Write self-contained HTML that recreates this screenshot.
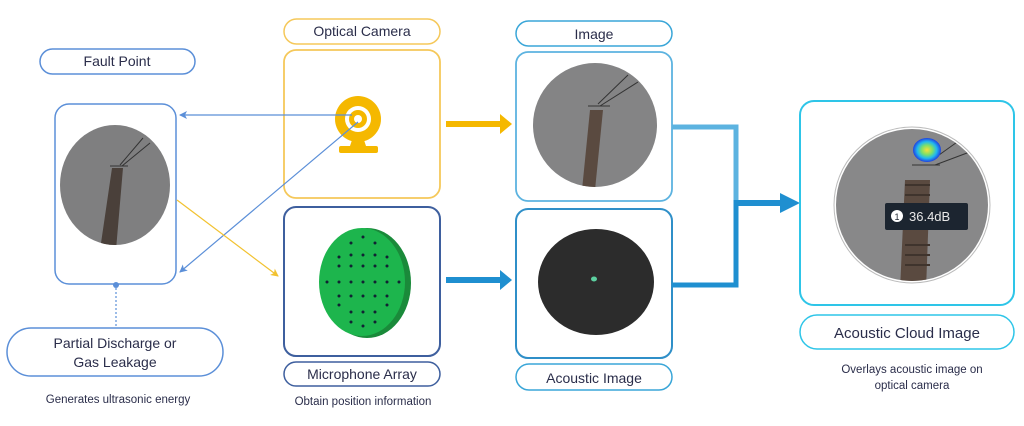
<!DOCTYPE html>
<html><head><style>
body{margin:0;background:#fff;}
svg text{font-family:"Liberation Sans",sans-serif;fill:#2a2d4a;}
</style></head><body>
<svg width="1024" height="421" viewBox="0 0 1024 421">
<defs>
<marker id="ab" markerWidth="8" markerHeight="8" refX="7" refY="4" orient="auto" markerUnits="userSpaceOnUse"><path d="M0,0 L8,4 L0,8 L2,4z" fill="#5b8fd8"/></marker>
<marker id="ay" markerWidth="8" markerHeight="8" refX="7" refY="4" orient="auto" markerUnits="userSpaceOnUse"><path d="M0,0 L8,4 L0,8 L2,4z" fill="#f2c230"/></marker>
<clipPath id="c1"><ellipse cx="115" cy="185" rx="55" ry="60"/></clipPath>
<clipPath id="c2"><circle cx="595" cy="125" r="62"/></clipPath>
<clipPath id="c3"><circle cx="912" cy="205" r="76"/></clipPath>
<radialGradient id="hot"><stop offset="0" stop-color="#f7e03a"/><stop offset="0.4" stop-color="#7be06a"/><stop offset="0.7" stop-color="#20b8f0"/><stop offset="1" stop-color="#2040e0"/></radialGradient>
</defs>
<!-- Left -->
<rect x="40" y="49" width="155" height="25" rx="12.5" fill="#fff" stroke="#5b8fd8" stroke-width="1.5"/>
<text x="117" y="66" font-size="14" text-anchor="middle">Fault Point</text>
<rect x="55" y="104" width="121" height="180" rx="14" fill="#fff" stroke="#5b8fd8" stroke-width="1.5"/>
<g clip-path="url(#c1)"><rect x="55" y="120" width="121" height="130" fill="#7f7f80"/>
<path d="M112,168 L123,168 L116,250 L100,250z" fill="#4a403a"/>
<path d="M110,166 L128,166 M120,165 L143,138 M122,166 L150,143" stroke="#333" stroke-width="1" fill="none"/></g>
<circle cx="116" cy="285" r="3" fill="#5b8fd8"/>
<line x1="116" y1="288" x2="116" y2="326" stroke="#5b8fd8" stroke-width="1.2" stroke-dasharray="2,2"/>
<rect x="7" y="328" width="216" height="48" rx="24" fill="#fff" stroke="#5b8fd8" stroke-width="1.5"/>
<text x="115" y="348" font-size="14" text-anchor="middle">Partial Discharge or</text>
<text x="115" y="367" font-size="14" text-anchor="middle">Gas Leakage</text>
<text x="118" y="403" font-size="11.5" text-anchor="middle">Generates ultrasonic energy</text>
<!-- Camera -->
<rect x="284" y="19" width="156" height="25" rx="12.5" fill="#fff" stroke="#f5c85a" stroke-width="1.5"/>
<text x="362" y="36" font-size="14" text-anchor="middle">Optical Camera</text>
<rect x="284" y="50" width="156" height="148" rx="12" fill="#fff" stroke="#f5c85a" stroke-width="1.8"/>
<circle cx="358" cy="119" r="23" fill="#f5b800"/>
<circle cx="358" cy="119" r="13" fill="#fff"/><circle cx="358" cy="119" r="9" fill="#f5b800"/><circle cx="358" cy="119" r="4" fill="#fff"/>
<path d="M352,140 L364,140 L366,146 L350,146z" fill="#f5b800"/>
<rect x="339" y="146" width="39" height="7" rx="2" fill="#f5b800"/>
<rect x="284" y="207" width="156" height="149" rx="12" fill="#fff" stroke="#3e5f9e" stroke-width="2"/>
<ellipse cx="367" cy="283" rx="44" ry="55" fill="#1a8a3a"/>
<ellipse cx="362" cy="282" rx="43" ry="54" fill="#1db54d"/>
<g fill="#123">
<circle cx="363" cy="237" r="1.5"/><circle cx="351" cy="243" r="1.5"/><circle cx="375" cy="243" r="1.5"/>
<circle cx="339" cy="257" r="1.5"/><circle cx="351" cy="255" r="1.5"/><circle cx="363" cy="255" r="1.5"/><circle cx="375" cy="255" r="1.5"/><circle cx="387" cy="257" r="1.5"/>
<circle cx="339" cy="266" r="1.5"/><circle cx="351" cy="266" r="1.5"/><circle cx="363" cy="266" r="1.5"/><circle cx="375" cy="266" r="1.5"/><circle cx="387" cy="266" r="1.5"/>
<circle cx="327" cy="282" r="1.5"/><circle cx="339" cy="282" r="1.5"/><circle cx="351" cy="282" r="1.5"/><circle cx="363" cy="282" r="1.5"/><circle cx="375" cy="282" r="1.5"/><circle cx="387" cy="282" r="1.5"/><circle cx="399" cy="282" r="1.5"/>
<circle cx="339" cy="296" r="1.5"/><circle cx="351" cy="296" r="1.5"/><circle cx="363" cy="296" r="1.5"/><circle cx="375" cy="296" r="1.5"/><circle cx="387" cy="296" r="1.5"/>
<circle cx="339" cy="305" r="1.5"/><circle cx="387" cy="305" r="1.5"/>
<circle cx="351" cy="312" r="1.5"/><circle cx="363" cy="312" r="1.5"/><circle cx="375" cy="312" r="1.5"/>
<circle cx="351" cy="322" r="1.5"/><circle cx="363" cy="326" r="1.5"/><circle cx="375" cy="322" r="1.5"/></g>
<rect x="284" y="362" width="156" height="24" rx="12" fill="#fff" stroke="#3e5f9e" stroke-width="1.5"/>
<text x="362" y="379" font-size="14" text-anchor="middle">Microphone Array</text>
<text x="363" y="405" font-size="11.5" text-anchor="middle">Obtain position information</text>
<!-- connectors left -->
<line x1="352" y1="115" x2="180" y2="115" stroke="#5b8fd8" stroke-width="1.2" marker-end="url(#ab)"/>
<line x1="358" y1="122" x2="180" y2="272" stroke="#5b8fd8" stroke-width="1.2" marker-end="url(#ab)"/>
<line x1="177" y1="200" x2="278" y2="276" stroke="#f2c230" stroke-width="1.2" marker-end="url(#ay)"/>
<!-- mid arrows -->
<path d="M446,121 L500,121 L500,114 L512,124 L500,134 L500,127 L446,127z" fill="#f5b800"/>
<path d="M446,277 L500,277 L500,270 L512,280 L500,290 L500,283 L446,283z" fill="#1f8fd0"/>
<!-- image column -->
<rect x="516" y="21" width="156" height="25" rx="12.5" fill="#fff" stroke="#3aa6d8" stroke-width="1.5"/>
<text x="594" y="39" font-size="14" text-anchor="middle">Image</text>
<rect x="516" y="52" width="156" height="149" rx="12" fill="#fff" stroke="#5cb3e0" stroke-width="1.8"/>
<g clip-path="url(#c2)"><rect x="530" y="60" width="130" height="130" fill="#848485"/>
<path d="M590,110 L603,110 L595,190 L582,190z" fill="#5a4a40"/>
<path d="M588,106 L610,106 M598,104 L628,75 M600,106 L638,82" stroke="#333" stroke-width="1" fill="none"/></g>
<rect x="516" y="209" width="156" height="149" rx="12" fill="#fff" stroke="#2f8fc8" stroke-width="2"/>
<ellipse cx="596" cy="282" rx="58" ry="53" fill="#2c2c2c"/>
<ellipse cx="594" cy="279" rx="3" ry="2.5" fill="#5cd0a0"/>
<rect x="516" y="364" width="156" height="26" rx="13" fill="#fff" stroke="#3aa6d8" stroke-width="1.5"/>
<text x="594" y="383" font-size="14" text-anchor="middle">Acoustic Image</text>
<!-- merge -->
<path d="M672,127 L736,127 L736,203" stroke="#5cb3e0" stroke-width="5" fill="none"/>
<path d="M672,285 L736,285 L736,200" stroke="#1f8fd0" stroke-width="5" fill="none"/>
<path d="M734,200 L780,200 L780,193 L800,203 L780,213 L780,206 L734,206z" fill="#1f8fd0"/>
<!-- right -->
<rect x="800" y="101" width="214" height="204" rx="14" fill="#fff" stroke="#2ec5e8" stroke-width="2"/>
<circle cx="912" cy="205" r="78" fill="#fff" stroke="#bbb" stroke-width="1"/>
<g clip-path="url(#c3)"><rect x="830" y="125" width="165" height="165" fill="#888889"/>
<path d="M905,180 L930,180 L926,290 L900,290z" fill="#5a4a40"/>
<path d="M905,185 L930,185 M905,195 L930,195 M905,205 L930,205 M905,215 L930,215 M905,245 L930,245 M905,255 L930,255 M905,265 L930,265" stroke="#3f342d" stroke-width="2"/>
<path d="M912,165 L940,165 M932,160 L960,140 M935,165 L975,150" stroke="#333" stroke-width="1" fill="none"/></g>
<ellipse cx="927" cy="150" rx="14" ry="12" fill="url(#hot)"/>
<rect x="885" y="203" width="83" height="27" rx="2" fill="#1c2530"/>
<circle cx="897" cy="216" r="6" fill="#fff"/><text x="897" y="220" font-size="9" text-anchor="middle" style="fill:#1c2530">1</text>
<text x="909" y="221" font-size="13" style="fill:#e8e8e8">36.4dB</text>
<rect x="800" y="315" width="214" height="34" rx="17" fill="#fff" stroke="#2ec5e8" stroke-width="1.5"/>
<text x="907" y="338" font-size="15" text-anchor="middle">Acoustic Cloud Image</text>
<text x="912" y="373" font-size="11.5" text-anchor="middle">Overlays acoustic image on</text>
<text x="912" y="389" font-size="11.5" text-anchor="middle">optical camera</text>
</svg>
</body></html>
